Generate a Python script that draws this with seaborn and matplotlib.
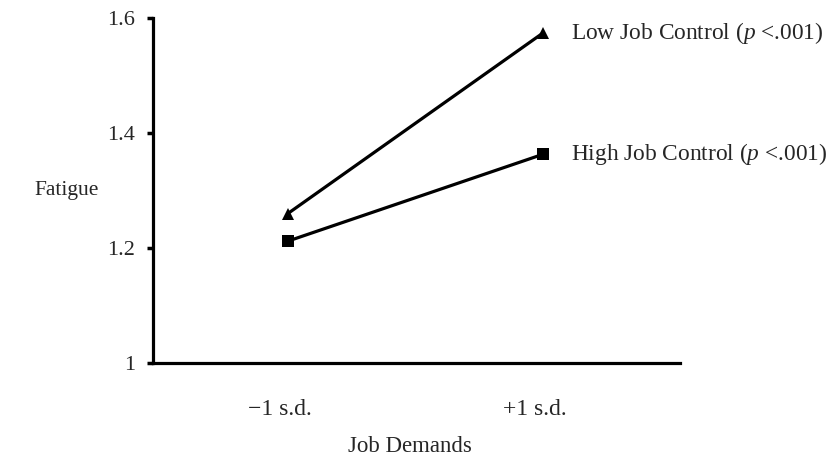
import matplotlib
matplotlib.use("Agg")
import matplotlib.pyplot as plt
import matplotlib.transforms as mtransforms
import seaborn as sns
import pandas as pd

# data
x_labels = ["\u22121 s.d.", "+1 s.d."]
x_pos = [0, 1]
low_control = [1.26, 1.574]
high_control = [1.212, 1.363]
y_ticks = [1, 1.2, 1.4, 1.6]
y_tick_labels = ["1", "1.2", "1.4", "1.6"]

sns.set_theme(style="white")
plt.rcParams["font.family"] = ["Liberation Serif", "DejaVu Serif"]
plt.rcParams["mathtext.fontset"] = "custom"
plt.rcParams["mathtext.rm"] = "Liberation Serif"
plt.rcParams["mathtext.it"] = "Liberation Serif:italic"

df = pd.DataFrame({
    "x": x_pos * 2,
    "y": low_control + high_control,
    "group": ["Low"] * 2 + ["High"] * 2,
})

fig = plt.figure(figsize=(8.31, 4.58), dpi=100)
ax = fig.add_axes([153 / 831, 1 - 363 / 458, 527 / 831, 345 / 458])

sns.lineplot(data=df, x="x", y="y", hue="group", style="group",
             markers={"Low": "^", "High": "s"}, dashes=False,
             palette={"Low": "black", "High": "black"},
             linewidth=2.3, markersize=8.5, markeredgewidth=0,
             legend=False, ax=ax)

ax.set_xlim(-0.529, 1.537)
ax.set_ylim(1, 1.6)

ax.text(1.11, low_control[1], r"Low Job Control ($\mathit{p}$ <.001)",
        fontsize=16.8, va="center", ha="left")
ax.text(1.11, high_control[1], r"High Job Control ($\mathit{p}$ <.001)",
        fontsize=16.8, va="center", ha="left")

ax.set_xticks(x_pos)
ax.set_xticklabels(x_labels, fontsize=17)
ax.set_yticks(y_ticks)
ax.set_yticklabels(y_tick_labels, fontsize=16)
ax.tick_params(axis="x", bottom=False, length=0, pad=26)
ax.tick_params(axis="y", left=True, length=4, width=2.5, direction="out",
               pad=9, color="black")

# x tick labels sit a little left of the points in the reference
shift = mtransforms.ScaledTranslation(-8 / 100, 0, fig.dpi_scale_trans)
for lab in ax.get_xticklabels():
    lab.set_transform(lab.get_transform() + shift)

ax.set_xlabel("Job Demands", fontsize=16.5, va="center")
ax.xaxis.set_label_coords(0.488, -0.243)
ax.set_ylabel("Fatigue", fontsize=15.5, rotation=0, va="center", ha="center")
ax.yaxis.set_label_coords(-0.163, 0.501)

for side in ["top", "right"]:
    ax.spines[side].set_visible(False)
for side in ["left", "bottom"]:
    ax.spines[side].set_color("black")
    ax.spines[side].set_linewidth(2.3)

fig.savefig("out.png", dpi=100)
